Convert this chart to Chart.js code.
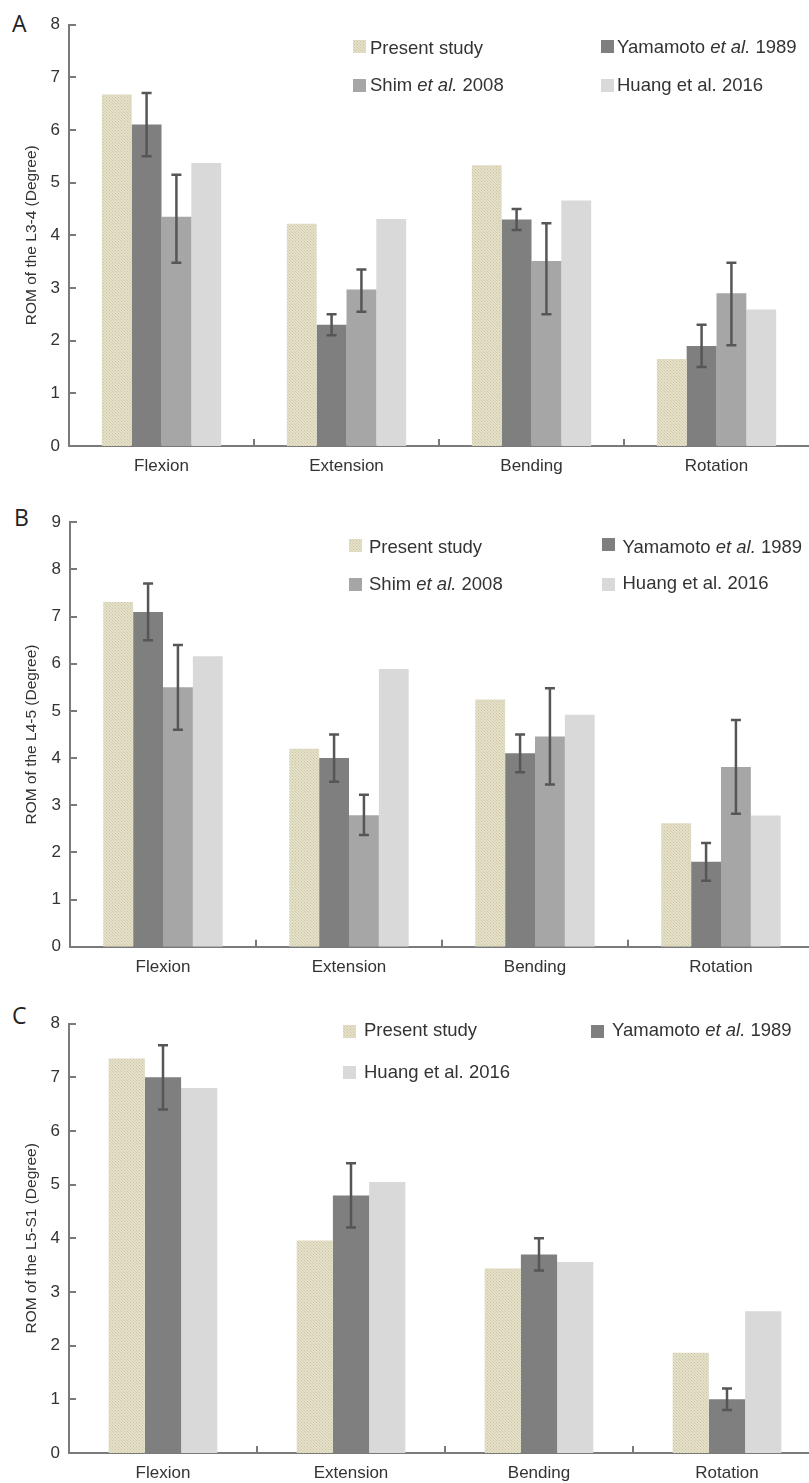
<!DOCTYPE html>
<html>
<head>
<meta charset="utf-8">
<title>Range of motion by segment</title>
<script src="https://cdn.jsdelivr.net/npm/chart.js@4.4.1/dist/chart.umd.min.js"></script>
<style>
  html, body { margin: 0; padding: 0; background: #fff; }
  #page { position: relative; width: 809px; height: 1483px; overflow: hidden;
          font-family: "Liberation Sans", Arial, Helvetica, sans-serif; color: #333; }
  .panel { position: absolute; left: 0; }
  .panel canvas { display: block; }
  .letter { position: absolute; font-family: "Open Sans", sans-serif; font-size: 23px;
            line-height: 1; color: #222; }
  .leg { position: absolute; font-size: 18.5px; line-height: 1; white-space: nowrap; color: #333; }
  .sw { position: absolute; width: 13px; height: 13px; }
</style>
</head>
<body>
<div id="page">
  <div class="letter" style="left:12px;top:12px;">A</div>
  <div class="letter" style="left:14px;top:506px;">B</div>
  <div class="letter" style="left:12px;top:1004px;">C</div>

  <div class="panel" style="top:0px;"><canvas id="chartA" width="830" height="490"></canvas></div>
  <div class="panel" style="top:490px;"><canvas id="chartB" width="830" height="490"></canvas></div>
  <div class="panel" style="top:980px;"><canvas id="chartC" width="830" height="503"></canvas></div>

  <!-- legend, panel A -->
  <div class="sw pres" style="left:353px;top:40px;"></div>
  <div class="leg" style="left:370px;top:38.5px;">Present study</div>
  <div class="sw" style="left:353px;top:79px;background:#a6a6a6;"></div>
  <div class="leg" style="left:370px;top:76.3px;">Shim <i>et al.</i> 2008</div>
  <div class="sw" style="left:601px;top:39.5px;background:#7f7f7f;"></div>
  <div class="leg" style="left:617px;top:38px;">Yamamoto <i>et al.</i> 1989</div>
  <div class="sw" style="left:601px;top:79px;background:#d9d9d9;"></div>
  <div class="leg" style="left:617px;top:76px;">Huang et al. 2016</div>

  <!-- legend, panel B -->
  <div class="sw pres" style="left:348.5px;top:538.5px;"></div>
  <div class="leg" style="left:369px;top:538.2px;">Present study</div>
  <div class="sw" style="left:348.5px;top:578px;background:#a6a6a6;"></div>
  <div class="leg" style="left:369px;top:574.7px;">Shim <i>et al.</i> 2008</div>
  <div class="sw" style="left:602px;top:538px;background:#7f7f7f;"></div>
  <div class="leg" style="left:622.5px;top:538px;">Yamamoto <i>et al.</i> 1989</div>
  <div class="sw" style="left:602px;top:578px;background:#d9d9d9;"></div>
  <div class="leg" style="left:622.5px;top:574.3px;">Huang et al. 2016</div>

  <!-- legend, panel C -->
  <div class="sw pres" style="left:342.5px;top:1024.5px;"></div>
  <div class="leg" style="left:364px;top:1020.5px;">Present study</div>
  <div class="sw" style="left:342.5px;top:1066px;background:#d9d9d9;"></div>
  <div class="leg" style="left:364px;top:1063px;">Huang et al. 2016</div>
  <div class="sw" style="left:591px;top:1024.5px;background:#7f7f7f;"></div>
  <div class="leg" style="left:612px;top:1021.2px;">Yamamoto <i>et al.</i> 1989</div>
</div>

<script>
// ---- data -------------------------------------------------------------
const categories = ['Flexion', 'Extension', 'Bending', 'Rotation'];

// L3-4
const l34Present  = [6.67, 4.22, 5.33, 1.65];
const l34Yamamoto = [6.1, 2.3, 4.3, 1.9];
const l34YamHigh  = [6.7, 2.5, 4.5, 2.3];
const l34YamLow   = [5.5, 2.1, 4.1, 1.5];
const l34Shim     = [4.35, 2.97, 3.51, 2.90];
const l34ShimHigh = [5.15, 3.35, 4.23, 3.48];
const l34ShimLow  = [3.48, 2.55, 2.50, 1.91];
const l34Huang    = [5.37, 4.31, 4.66, 2.59];

// L4-5
const l45Present  = [7.31, 4.20, 5.24, 2.62];
const l45Yamamoto = [7.1, 4.0, 4.1, 1.8];
const l45YamHigh  = [7.7, 4.5, 4.5, 2.2];
const l45YamLow   = [6.5, 3.5, 3.7, 1.4];
const l45Shim     = [5.5, 2.79, 4.46, 3.81];
const l45ShimHigh = [6.4, 3.22, 5.48, 4.81];
const l45ShimLow  = [4.6, 2.37, 3.44, 2.82];
const l45Huang    = [6.16, 5.89, 4.92, 2.78];

// L5-S1
const l5s1Present  = [7.35, 3.96, 3.44, 1.87];
const l5s1Yamamoto = [7.0, 4.8, 3.7, 1.0];
const l5s1YamHigh  = [7.6, 5.4, 4.0, 1.2];
const l5s1YamLow   = [6.4, 4.2, 3.4, 0.8];
const l5s1Huang    = [6.80, 5.05, 3.56, 2.64];

const yTicksL34  = [0, 1, 2, 3, 4, 5, 6, 7, 8];
const yTicksL45  = [0, 1, 2, 3, 4, 5, 6, 7, 8, 9];
const yTicksL5S1 = [0, 1, 2, 3, 4, 5, 6, 7, 8];

// ---- styles -----------------------------------------------------------
const AXIS = '#7a7a7a';
const TEXT = '#333333';
const FONT = '"Liberation Sans", Arial, Helvetica, sans-serif';
const C_YAM = '#7f7f7f', C_SHIM = '#a6a6a6', C_HUANG = '#d9d9d9';

// fine beige stipple used for the "Present study" bars
function stipple() {
  const c = document.createElement('canvas');
  c.width = 3; c.height = 3;
  const g = c.getContext('2d');
  g.fillStyle = '#e4e0ca'; g.fillRect(0, 0, 3, 3);
  g.fillStyle = '#cbc5a1'; g.fillRect(1, 1, 1, 1);
  g.fillStyle = '#d6d1b3'; g.fillRect(0, 0, 1, 1); g.fillRect(2, 2, 1, 1);
  return c;
}
const stippleTile = stipple();
document.querySelectorAll('.sw.pres').forEach(el => {
  el.style.backgroundImage = 'url(' + stippleTile.toDataURL() + ')';
});

// inward tick marks on both axes
const innerTicks = {
  id: 'innerTicks',
  afterDatasetsDraw(chart) {
    const {ctx, chartArea, scales: {x, y}} = chart;
    ctx.save();
    ctx.strokeStyle = AXIS;
    ctx.lineWidth = 2;
    ctx.beginPath();
    y.ticks.forEach(t => {
      const py = Math.round(y.getPixelForValue(t.value));
      ctx.moveTo(chartArea.left, py);
      ctx.lineTo(chartArea.left + 7, py);
    });
    for (let i = 1; i < x.ticks.length; i++) {
      const px = Math.round((x.getPixelForValue(i - 1) + x.getPixelForValue(i)) / 2);
      ctx.moveTo(px, chartArea.bottom);
      ctx.lineTo(px, chartArea.bottom - 7);
    }
    ctx.stroke();
    ctx.restore();
  }
};

// error bars from each dataset's errLow / errHigh bounds
const errorBars = {
  id: 'errorBars',
  afterDatasetsDraw(chart) {
    const {ctx, scales: {y}} = chart;
    ctx.save();
    ctx.strokeStyle = '#565656';
    ctx.lineWidth = 2.5;
    chart.data.datasets.forEach((ds, di) => {
      if (!ds.errHigh) return;
      const meta = chart.getDatasetMeta(di);
      meta.data.forEach((bar, i) => {
        const x = bar.x;
        const yh = y.getPixelForValue(ds.errHigh[i]);
        const yl = y.getPixelForValue(ds.errLow[i]);
        ctx.beginPath();
        ctx.moveTo(x, yh); ctx.lineTo(x, yl);
        ctx.moveTo(x - 5, yh); ctx.lineTo(x + 5, yh);
        ctx.moveTo(x - 5, yl); ctx.lineTo(x + 5, yl);
        ctx.stroke();
      });
    });
    ctx.restore();
  }
};

function makeChart(id, cfg) {
  const ctx = document.getElementById(id).getContext('2d');
  const pattern = ctx.createPattern(stippleTile, 'repeat');
  const datasets = cfg.series.map(s => ({
    label: s.label,
    data: s.data,
    errHigh: s.high,
    errLow: s.low,
    backgroundColor: s.color === 'pattern' ? pattern : s.color,
    borderWidth: 0,
    categoryPercentage: cfg.catPct,
    barPercentage: 1.0
  }));
  return new Chart(ctx, {
    type: 'bar',
    data: { labels: categories, datasets },
    options: {
      responsive: false,
      animation: false,
      devicePixelRatio: 1,
      layout: { padding: { top: cfg.padTop, right: cfg.padRight, left: 0, bottom: 0 } },
      plugins: { legend: { display: false }, tooltip: { enabled: false } },
      scales: {
        x: {
          grid: { display: false, drawTicks: false },
          border: { display: true, color: AXIS, width: 2 },
          ticks: { color: TEXT, font: { family: FONT, size: 17 }, padding: 10 },
          afterFit: s => { s.height = cfg.xHeight; }
        },
        y: {
          min: cfg.yTicks[0],
          max: cfg.yTicks[cfg.yTicks.length - 1],
          afterBuildTicks: s => { s.ticks = cfg.yTicks.map(v => ({ value: v })); },
          grid: { display: false, drawTicks: false },
          border: { display: true, color: AXIS, width: 2 },
          ticks: { color: TEXT, font: { family: FONT, size: 17 }, padding: 9 },
          title: { display: true, text: cfg.yTitle, color: TEXT,
                   font: { family: FONT, size: 15.5 }, padding: { top: 22, bottom: 0 } },
          afterFit: s => { s.width = cfg.yWidth; }
        }
      }
    },
    plugins: [innerTicks, errorBars]
  });
}

makeChart('chartA', {
  yTitle: 'ROM of the L3-4 (Degree)', yTicks: yTicksL34,
  padTop: 24.5, padRight: 21, xHeight: 44, yWidth: 69, catPct: 0.645,
  series: [
    { label: 'Present study', data: l34Present, color: 'pattern' },
    { label: 'Yamamoto et al. 1989', data: l34Yamamoto, high: l34YamHigh, low: l34YamLow, color: C_YAM },
    { label: 'Shim et al. 2008', data: l34Shim, high: l34ShimHigh, low: l34ShimLow, color: C_SHIM },
    { label: 'Huang et al. 2016', data: l34Huang, color: C_HUANG }
  ]
});

makeChart('chartB', {
  yTitle: 'ROM of the L4-5 (Degree)', yTicks: yTicksL45,
  padTop: 32.3, padRight: 16, xHeight: 33.3, yWidth: 70, catPct: 0.642,
  series: [
    { label: 'Present study', data: l45Present, color: 'pattern' },
    { label: 'Yamamoto et al. 1989', data: l45Yamamoto, high: l45YamHigh, low: l45YamLow, color: C_YAM },
    { label: 'Shim et al. 2008', data: l45Shim, high: l45ShimHigh, low: l45ShimLow, color: C_SHIM },
    { label: 'Huang et al. 2016', data: l45Huang, color: C_HUANG }
  ]
});

makeChart('chartC', {
  yTitle: 'ROM of the L5-S1 (Degree)', yTicks: yTicksL5S1,
  padTop: 43.7, padRight: 9, xHeight: 30, yWidth: 69, catPct: 0.578,
  series: [
    { label: 'Present study', data: l5s1Present, color: 'pattern' },
    { label: 'Yamamoto et al. 1989', data: l5s1Yamamoto, high: l5s1YamHigh, low: l5s1YamLow, color: C_YAM },
    { label: 'Huang et al. 2016', data: l5s1Huang, color: C_HUANG }
  ]
});
</script>
</body>
</html>
